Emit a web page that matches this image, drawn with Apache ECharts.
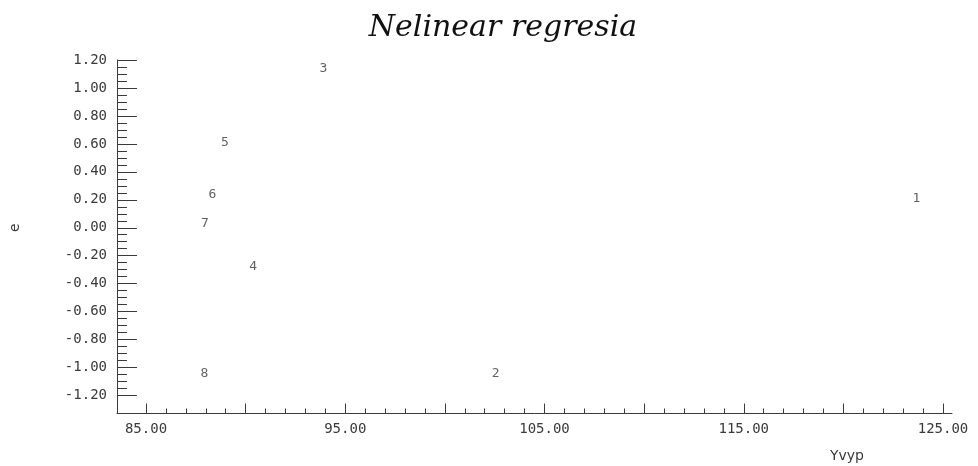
<!DOCTYPE html>
<html lang="en">

<head>
    <meta charset="UTF-8">
    <title>Nelinear regresia</title>
    <style>
        body { margin: 0; background: #fff; }
    </style>
</head>

<body>
    <div id="chart" style="width:978px;height:466px;"></div>
</body>
<script src="https://cdn.jsdelivr.net/npm/echarts@6/dist/echarts.min.js"></script>
<script>
    // body cisla a hodnoty odcitane z obrazku
    var pointLabels = ['1', '2', '3', '4', '5', '6', '7', '8'];
    var yvyp = [123.67, 102.55, 93.90, 90.38, 88.96, 88.33, 87.96, 87.93];
    var rezidua = [0.206, -1.046, 1.141, -0.279, 0.608, 0.234, 0.027, -1.046];

    var xMin = 85, xMax = 125, xStep = 5, xLabelStep = 10;
    var yMin = -1.2, yMax = 1.2, yStep = 0.2;

    var axisColor = '#3a3a3a';
    var textColor = '#3a3a3a';
    var tickFont = 'DejaVu Sans Mono';

    var points = yvyp.map(function (x, i) {
        return { name: pointLabels[i], value: [x, rezidua[i]] };
    });

    var chart = echarts.init(document.getElementById('chart'));
    var option = {
        animation: false,
        backgroundColor: '#fff',
        title: {
            text: 'Nelinear regresia',
            left: 498,
            top: 8,
            textAlign: 'center',
            textStyle: {
                fontFamily: 'DejaVu Serif',
                fontStyle: 'italic',
                fontWeight: 'normal',
                fontSize: 30,
                color: '#111'
            }
        },
        grid: [
            // datova oblast 85..125 x -1.2..1.2
            { left: 146, right: 35, top: 60, bottom: 70.5, outerBoundsMode: 'none', containLabel: false },
            // ram s osami (cary presahuji prvni tick)
            { left: 117, right: 26, top: 60, bottom: 53, outerBoundsMode: 'none', containLabel: false }
        ],
        xAxis: [
            {
                gridIndex: 0,
                type: 'value',
                position: 'bottom',
                min: xMin,
                max: xMax,
                interval: xStep,
                offset: 18,
                name: 'Yvyp',
                nameLocation: 'end',
                nameGap: -96,
                nameTextStyle: {
                    fontFamily: 'DejaVu Sans',
                    fontSize: 14,
                    color: textColor,
                    align: 'center',
                    verticalAlign: 'top',
                    padding: [36, 0, 0, 0]
                },
                axisLine: { show: false, onZero: false },
                axisTick: { show: true, inside: true, length: 10, lineStyle: { color: axisColor } },
                minorTick: { show: true, splitNumber: 5, length: 5, lineStyle: { color: axisColor } },
                axisLabel: {
                    margin: 9,
                    fontFamily: tickFont,
                    fontSize: 14,
                    color: textColor,
                    formatter: function (v) {
                        return Math.abs((v - xMin) % xLabelStep) < 1e-6 ? v.toFixed(2) : '';
                    }
                },
                splitLine: { show: false }
            },
            {
                gridIndex: 1,
                type: 'value',
                min: 0,
                max: 1,
                axisLine: { show: true, onZero: false, lineStyle: { color: axisColor, width: 1 } },
                axisTick: { show: false },
                axisLabel: { show: false },
                splitLine: { show: false }
            }
        ],
        yAxis: [
            {
                gridIndex: 0,
                type: 'value',
                position: 'left',
                min: yMin,
                max: yMax,
                interval: yStep,
                offset: 29,
                name: 'e',
                nameLocation: 'middle',
                nameGap: 95,
                nameTextStyle: {
                    fontFamily: 'DejaVu Sans',
                    fontSize: 14,
                    color: textColor
                },
                axisLine: { show: false, onZero: false },
                axisTick: { show: true, inside: true, length: 20, lineStyle: { color: axisColor } },
                minorTick: { show: true, splitNumber: 4, length: 10, lineStyle: { color: axisColor } },
                axisLabel: {
                    margin: 10,
                    fontFamily: tickFont,
                    fontSize: 14,
                    color: textColor,
                    formatter: function (v) {
                        return v.toFixed(2);
                    }
                },
                splitLine: { show: false }
            },
            {
                gridIndex: 1,
                type: 'value',
                min: 0,
                max: 1,
                axisLine: { show: true, onZero: false, lineStyle: { color: axisColor, width: 1 } },
                axisTick: { show: false },
                axisLabel: { show: false },
                splitLine: { show: false }
            }
        ],
        series: [
            {
                type: 'scatter',
                xAxisIndex: 0,
                yAxisIndex: 0,
                symbol: 'circle',
                symbolSize: 0,
                itemStyle: { color: 'rgba(0,0,0,0)' },
                label: {
                    show: true,
                    position: 'inside',
                    formatter: '{b}',
                    fontFamily: tickFont,
                    fontSize: 13,
                    color: textColor
                },
                data: points
            }
        ]
    };
    chart.setOption(option);
</script>

</html>
